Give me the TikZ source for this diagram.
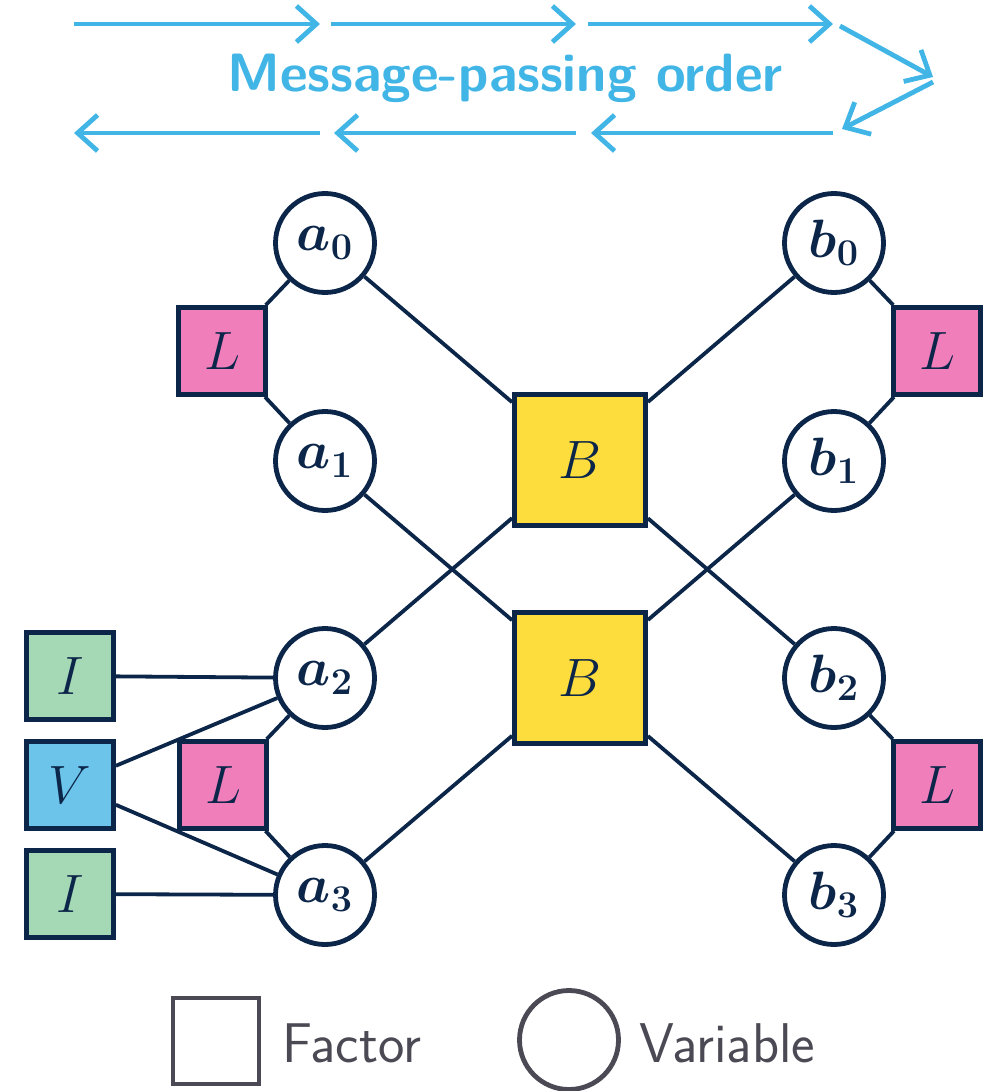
\documentclass[tikz,border=0pt]{standalone}
\usepackage{fix-cm}
\usepackage{amsmath,bm}
\usetikzlibrary{arrows.meta}

\definecolor{navy}{RGB}{12,38,74}
\definecolor{flowblue}{RGB}{65,182,230}
\definecolor{lpink}{RGB}{240,126,187}
\definecolor{byellow}{RGB}{253,220,61}
\definecolor{igreen}{RGB}{165,216,181}
\definecolor{vblue}{RGB}{108,196,234}
\definecolor{keygrey}{RGB}{75,74,84}

\tikzset{
  var/.style={draw=navy, line width=2.4pt, circle, fill=white, inner sep=0pt, minimum size=49.5pt,
    font=\fontsize{27}{31}\selectfont, text=navy},
  fac/.style={draw=navy, line width=2.4pt, rectangle, inner sep=0pt, minimum size=43.5pt,
    font=\fontsize{27}{31}\selectfont, text=navy},
  edge/.style={navy, line width=1.9pt},
  flow/.style={flowblue, line width=2.4pt, -{Straight Barb[length=10pt,width=18pt,line width=2.4pt]}},
}

\begin{document}
\begin{tikzpicture}[x=0.5pt,y=-0.5pt]
\useasboundingbox (0,0) rectangle (988,1091);

% message-passing order
\coordinate (t0) at (74,24);
\coordinate (t1) at (320,24);
\coordinate (t2) at (331,24);
\coordinate (t3) at (576,24);
\coordinate (t4) at (588,24);
\coordinate (t5) at (833,24);
\coordinate (d0) at (840,26);
\coordinate (d1) at (933,77);
\coordinate (d2) at (933,82);
\coordinate (d3) at (842,129);
\coordinate (u0) at (833,133);
\coordinate (u1) at (591,133);
\coordinate (u2) at (576,133);
\coordinate (u3) at (334,133);
\coordinate (u4) at (320,133);
\coordinate (u5) at (74,133);
\draw[flow] (t0) -- (t1);
\draw[flow] (t2) -- (t3);
\draw[flow] (t4) -- (t5);
\draw[flow] (d0) -- (d1);
\draw[flow] (d2) -- (d3);
\draw[flow] (u0) -- (u1);
\draw[flow] (u2) -- (u3);
\draw[flow] (u4) -- (u5);
\node[anchor=base, text=flowblue, font=\fontsize{27}{32}\selectfont\sffamily\bfseries] (title) at (505,92) {Message-passing order};

% variables
\node[var] (a0) at (325,243) {$\bm{a_0}$};
\node[var] (a1) at (325,461) {$\bm{a_1}$};
\node[var] (a2) at (325,678) {$\bm{a_2}$};
\node[var] (a3) at (325,895) {$\bm{a_3}$};
\node[var] (b0) at (834,243) {$\bm{b_0}$};
\node[var] (b1) at (834,461) {$\bm{b_1}$};
\node[var] (b2) at (834,678) {$\bm{b_2}$};
\node[var] (b3) at (834,895) {$\bm{b_3}$};

% factors
\node[fac, fill=byellow, minimum size=65.5pt] (B0) at (580,460) {$B$};
\node[fac, fill=byellow, minimum size=65.5pt] (B1) at (580,678) {$B$};
\node[fac, fill=lpink] (La) at (222,351) {$L$};
\node[fac, fill=lpink] (Lb) at (223,785) {$L$};
\node[fac, fill=lpink] (Lc) at (937,351) {$L$};
\node[fac, fill=lpink] (Ld) at (937,785) {$L$};
\node[fac, fill=igreen] (I0) at (70,676) {$I$};
\node[fac, fill=vblue] (V) at (70,785) {$V$};
\node[fac, fill=igreen] (I1) at (70,894) {$I$};

% edges
\draw[edge] (a0) -- (B0);
\draw[edge] (a2) -- (B0);
\draw[edge] (b0) -- (B0);
\draw[edge] (b2) -- (B0);
\draw[edge] (a1) -- (B1);
\draw[edge] (a3) -- (B1);
\draw[edge] (b1) -- (B1);
\draw[edge] (b3) -- (B1);
\draw[edge] (La) -- (a0);
\draw[edge] (La) -- (a1);
\draw[edge] (Lb) -- (a2);
\draw[edge] (Lb) -- (a3);
\draw[edge] (Lc) -- (b0);
\draw[edge] (Lc) -- (b1);
\draw[edge] (Ld) -- (b2);
\draw[edge] (Ld) -- (b3);
\draw[edge] (I0) -- (a2);
\draw[edge] (I1) -- (a3);
\draw[edge] (V) -- (a2);
\draw[edge] (V) -- (a3);

% legend
\node[draw=keygrey, line width=2.4pt, rectangle, minimum size=43pt] (kfac) at (216,1041) {};
\node[anchor=west, text=keygrey, font=\fontsize{28}{33}\selectfont\sffamily] (kfactxt) at (275,1043) {Factor};
\node[draw=keygrey, line width=2.4pt, circle, minimum size=49.5pt] (kvar) at (569,1040) {};
\node[anchor=west, text=keygrey, font=\fontsize{28}{33}\selectfont\sffamily] (kvartxt) at (632,1043) {Variable};
\end{tikzpicture}
\end{document}
